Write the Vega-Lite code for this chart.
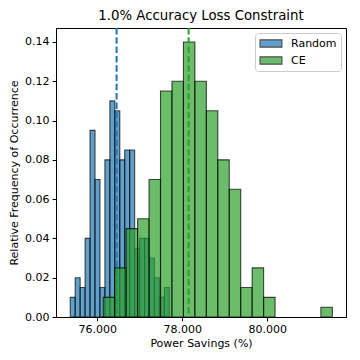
{
  "$schema": "https://vega.github.io/schema/vega-lite/v6.json",
  "width": 290,
  "height": 289,
  "autosize": "none",
  "padding": {"left": 56, "top": 28, "right": 14, "bottom": 43},
  "background": "white",
  "config": {
    "font": "DejaVu Sans",
    "view": {"stroke": "black", "strokeWidth": 1},
    "axis": {
      "grid": false,
      "domainColor": "black",
      "tickColor": "black",
      "tickSize": 3.9,
      "labelColor": "black",
      "labelFontSize": 11,
      "labelFont": "DejaVu Sans",
      "titleFont": "DejaVu Sans",
      "titleFontSize": 11,
      "titleFontWeight": "normal",
      "titleColor": "black",
      "labelPadding": 3
    }
  },
  "title": {"text": "1.0% Accuracy Loss Constraint", "fontSize": 13.3, "fontWeight": "normal", "font": "DejaVu Sans", "color": "black", "offset": 5},
  "datasets": {
    "random": [
      {"method": "Random", "bin_start": 75.365, "bin_end": 75.4815, "freq": 0.01},
      {"method": "Random", "bin_start": 75.4815, "bin_end": 75.598, "freq": 0.02},
      {"method": "Random", "bin_start": 75.598, "bin_end": 75.7145, "freq": 0.015},
      {"method": "Random", "bin_start": 75.7145, "bin_end": 75.831, "freq": 0.04},
      {"method": "Random", "bin_start": 75.831, "bin_end": 75.9475, "freq": 0.095},
      {"method": "Random", "bin_start": 75.9475, "bin_end": 76.064, "freq": 0.07},
      {"method": "Random", "bin_start": 76.064, "bin_end": 76.1805, "freq": 0.015},
      {"method": "Random", "bin_start": 76.1805, "bin_end": 76.297, "freq": 0.08},
      {"method": "Random", "bin_start": 76.297, "bin_end": 76.4135, "freq": 0.11},
      {"method": "Random", "bin_start": 76.4135, "bin_end": 76.53, "freq": 0.105},
      {"method": "Random", "bin_start": 76.53, "bin_end": 76.6465, "freq": 0.08},
      {"method": "Random", "bin_start": 76.6465, "bin_end": 76.763, "freq": 0.085},
      {"method": "Random", "bin_start": 76.763, "bin_end": 76.8795, "freq": 0.085},
      {"method": "Random", "bin_start": 76.8795, "bin_end": 76.996, "freq": 0.035},
      {"method": "Random", "bin_start": 76.996, "bin_end": 77.1125, "freq": 0.04},
      {"method": "Random", "bin_start": 77.1125, "bin_end": 77.229, "freq": 0.04},
      {"method": "Random", "bin_start": 77.229, "bin_end": 77.3455, "freq": 0.03},
      {"method": "Random", "bin_start": 77.3455, "bin_end": 77.462, "freq": 0.02},
      {"method": "Random", "bin_start": 77.462, "bin_end": 77.5785, "freq": 0.01},
      {"method": "Random", "bin_start": 77.5785, "bin_end": 77.695, "freq": 0.015}
    ],
    "ce": [
      {"method": "CE", "bin_start": 76.141, "bin_end": 76.4104, "freq": 0.01},
      {"method": "CE", "bin_start": 76.4104, "bin_end": 76.6798, "freq": 0.025},
      {"method": "CE", "bin_start": 76.6798, "bin_end": 76.9492, "freq": 0.045},
      {"method": "CE", "bin_start": 76.9492, "bin_end": 77.2186, "freq": 0.05},
      {"method": "CE", "bin_start": 77.2186, "bin_end": 77.488, "freq": 0.07},
      {"method": "CE", "bin_start": 77.488, "bin_end": 77.7574, "freq": 0.115},
      {"method": "CE", "bin_start": 77.7574, "bin_end": 78.0268, "freq": 0.12},
      {"method": "CE", "bin_start": 78.0268, "bin_end": 78.2962, "freq": 0.14},
      {"method": "CE", "bin_start": 78.2962, "bin_end": 78.5656, "freq": 0.12},
      {"method": "CE", "bin_start": 78.5656, "bin_end": 78.835, "freq": 0.105},
      {"method": "CE", "bin_start": 78.835, "bin_end": 79.1044, "freq": 0.08},
      {"method": "CE", "bin_start": 79.1044, "bin_end": 79.3738, "freq": 0.065},
      {"method": "CE", "bin_start": 79.3738, "bin_end": 79.6432, "freq": 0.015},
      {"method": "CE", "bin_start": 79.6432, "bin_end": 79.9126, "freq": 0.025},
      {"method": "CE", "bin_start": 79.9126, "bin_end": 80.182, "freq": 0.01},
      {"method": "CE", "bin_start": 81.2596, "bin_end": 81.529, "freq": 0.005}
    ],
    "means": [
      {"method": "Random", "mean": 76.455},
      {"method": "CE", "mean": 78.149}
    ]
  },
  "layer": [
    {
      "data": {"name": "random"},
      "mark": {"type": "bar", "fillOpacity": 0.7, "stroke": "black", "strokeOpacity": 0.7, "strokeWidth": 1.1},
      "encoding": {
        "x": {"field": "bin_start", "type": "quantitative", "scale": {"domain": [75.03, 81.85], "nice": false, "zero": false},
              "axis": {"values": [76, 78, 80], "format": ".3f", "title": "Power Savings (%)", "titlePadding": 3}},
        "x2": {"field": "bin_end"},
        "y": {"field": "freq", "type": "quantitative", "scale": {"domain": [0, 0.1471], "nice": false},
              "axis": {"values": [0, 0.02, 0.04, 0.06, 0.08, 0.1, 0.12, 0.14], "format": ".2f", "title": "Relative Frequency of Occurrence", "titlePadding": 5}},
        "y2": {"datum": 0},
        "color": {"field": "method", "type": "nominal",
                  "scale": {"domain": ["Random", "CE"], "range": ["#1f77b4", "#2ca02c"]},
                  "legend": {"title": null, "orient": "top-right", "offset": 5,
                             "symbolType": "M-1,-0.667H3V0.667H-1Z", "symbolSize": 120,
                             "symbolOpacity": 0.7, "symbolStrokeColor": "black", "symbolStrokeWidth": 1.1,
                             "labelFontSize": 11, "labelColor": "black", "labelFont": "DejaVu Sans", "labelOffset": 19,
                             "padding": 4, "rowPadding": 4,
                             "strokeColor": "#cccccc", "fillColor": "white", "cornerRadius": 3}}
      }
    },
    {
      "data": {"name": "means"},
      "transform": [{"filter": "datum.method == 'Random'"}],
      "mark": {"type": "rule", "color": "#1f77b4", "strokeWidth": 2, "strokeDash": [6.5, 2.8]},
      "encoding": {"x": {"field": "mean", "type": "quantitative"}}
    },
    {
      "data": {"name": "ce"},
      "mark": {"type": "bar", "fillOpacity": 0.7, "stroke": "black", "strokeOpacity": 0.7, "strokeWidth": 1.1},
      "encoding": {
        "x": {"field": "bin_start", "type": "quantitative"},
        "x2": {"field": "bin_end"},
        "y": {"field": "freq", "type": "quantitative"},
        "y2": {"datum": 0},
        "color": {"field": "method", "type": "nominal"}
      }
    },
    {
      "data": {"name": "means"},
      "transform": [{"filter": "datum.method == 'CE'"}],
      "mark": {"type": "rule", "color": "#2ca02c", "strokeWidth": 2, "strokeDash": [6.5, 2.8]},
      "encoding": {"x": {"field": "mean", "type": "quantitative"}}
    }
  ]
}
